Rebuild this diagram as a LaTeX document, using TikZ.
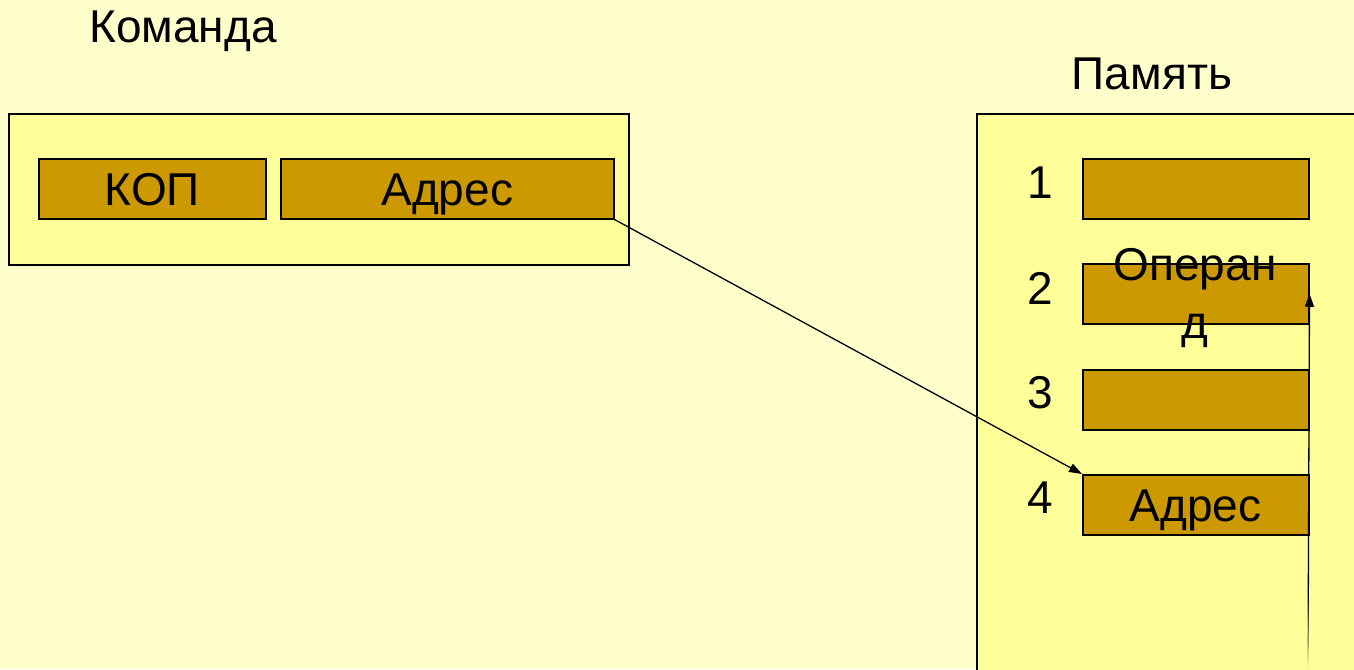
\documentclass[tikz,border=0pt]{standalone}
\usepackage{fontspec}
\setmainfont{Liberation Sans}
\usetikzlibrary{arrows.meta,fadings}
\definecolor{pagebg}{HTML}{FFFFCC}
\definecolor{panel}{HTML}{FFFF99}
\definecolor{cell}{HTML}{CC9900}
\begin{document}
\begin{tikzpicture}[x=0.5pt,y=-0.5pt,
  txt/.style={font=\fontsize{23}{29}\selectfont, inner sep=0pt},
  panelbox/.style={draw=black, line width=0.75pt, fill=panel, inner sep=0pt, anchor=north west},
  cellbox/.style={draw=black, line width=0.75pt, fill=cell, inner sep=0pt, anchor=north west,
    minimum height=30pt, text height=16.5pt, text depth=0pt, font=\fontsize{23}{29}\selectfont},
  arr/.style={line width=0.65pt, -{Triangle[length=6.5pt, width=4.5pt]}}]
  % page
  \useasboundingbox (0,0) rectangle (1354,669);
  \clip (0,0) rectangle (1354,669);
  \fill[pagebg] (0,0) rectangle (1354,669);

  % titles
  \node[txt] (cmdtitle) at (183,31) {Команда};
  \node[txt] (memtitle) at (1152,74) {Память};

  % instruction word
  \node[panelbox, minimum width=310pt, minimum height=75.5pt] (cmd) at (8,113) {};
  \node[cellbox, minimum width=113.5pt] (kop) at (38,158) {КОП};
  \node[cellbox, minimum width=166.5pt] (adr) at (280,158) {Адрес};

  % memory
  \node[panelbox, minimum width=200pt, minimum height=300pt] (mem) at (976,113) {};
  \node[cellbox, minimum width=113pt] (c1) at (1082,158) {};
  \node[cellbox, minimum width=113pt] (c2) at (1082,263) {};
  \node[cellbox, minimum width=113pt] (c3) at (1082,369) {};
  \node[cellbox, minimum width=113pt] (c4) at (1082,474) {Адрес};
  \node[txt] (n1) at (1040,183) {1};
  \node[txt] (n2) at (1040,288) {2};
  \node[txt] (n3) at (1040,393) {3};
  \node[txt] (n4) at (1040,498) {4};
  \node[txt, align=center] (oper) at (1195,298) {Операн\\д};

  % address reference and operand fetch
  \coordinate (memfoot) at (1308,669);
  \draw[arr] (adr.south east) -- (c4.north west);
  \draw[arr] (memfoot) -- (c2.east);
  \fill[panel, path fading=north] (1303,595) rectangle (1313,670);
\end{tikzpicture}
\end{document}
